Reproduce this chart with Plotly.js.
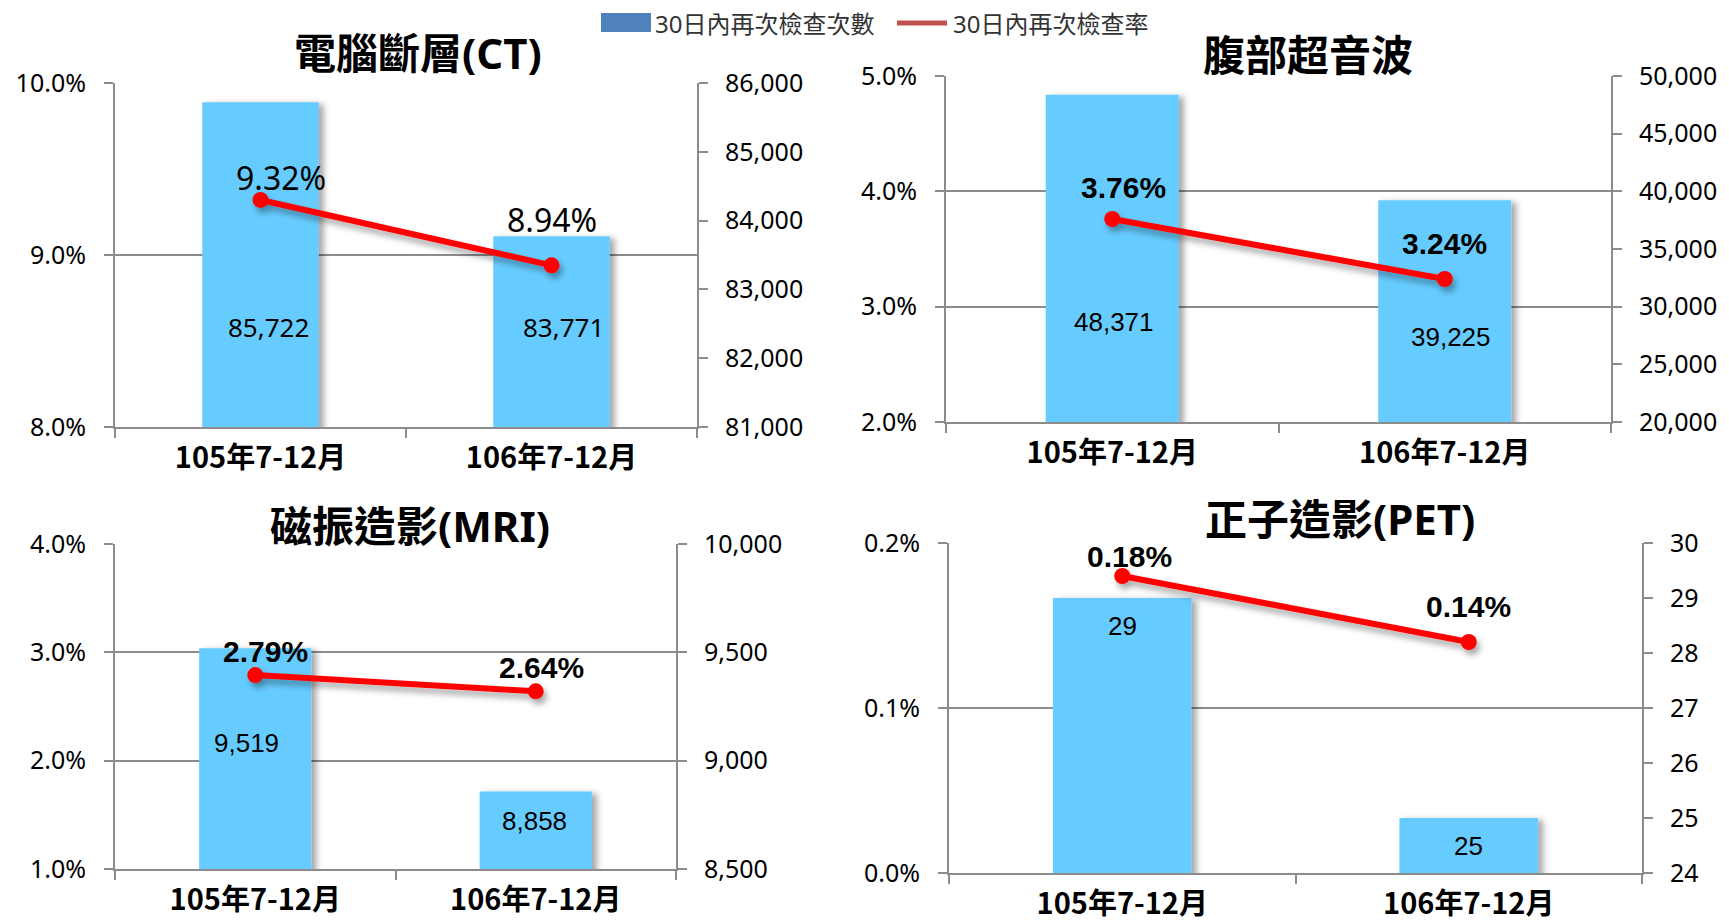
<!DOCTYPE html>
<html><head><meta charset="utf-8">
<script src="https://cdn.plot.ly/plotly-3.0.1.min.js"></script>
<style>html,body{margin:0;padding:0;background:#fff}#chart{width:1729px;height:923px}</style>
</head><body><div id="chart"></div>
<script>
// ---- data ----
const categories = ['105年7-12月', '106年7-12月'];
const panelTitles = ['電腦斷層(CT)', '腹部超音波', '磁振造影(MRI)', '正子造影(PET)'];
const seriesNames = ['30日內再次檢查次數', '30日內再次檢查率'];
const ctCounts = [85722, 83771];
const ctRates = [9.32, 8.94];
const usCounts = [48371, 39225];
const usRates = [3.76, 3.24];
const mriCounts = [9519, 8858];
const mriRates = [2.79, 2.64];
const petCounts = [29, 25];
const petRates = [0.18, 0.14];

// ---- layout config ----
const W = 1729, H = 923;
const GRAY = '#8c8c8c';
const BAR = '#66CCFF';
const RED = '#FF0000';
const LATIN = 'Noto Sans, Noto Sans CJK TC, sans-serif';
const ARIAL = 'Liberation Sans, Arial, sans-serif';
const CJK = 'Noto Sans CJK TC, sans-serif';

const panels = [
  {counts: ctCounts, rates: ctRates, title: panelTitles[0], xd: [115, 697], yd: [83, 427],
   rateRange: [8, 10], rateDtick: 1, countRange: [81000, 86000], countDtick: 1000,
   rateFont: {family: LATIN, size: 32, color: '#000'}, countFont: {family: LATIN, size: 26, color: '#000'},
   rateShift: [[20, 22], [0, 46]], countShift: [[8, -225], [12, -91]], tx: 418, ty: 52},
  {counts: usCounts, rates: usRates, title: panelTitles[1], xd: [946, 1611], yd: [76, 422],
   rateRange: [2, 5], rateDtick: 1, countRange: [20000, 50000], countDtick: 5000,
   rateFont: {family: ARIAL, size: 30, color: '#000', weight: 'bold'}, countFont: {family: ARIAL, size: 26, color: '#000'},
   rateShift: [[11, 32], [0, 35]], countShift: [[2, -227], [6, -137]], tx: 1308, ty: 54},
  {counts: mriCounts, rates: mriRates, title: panelTitles[2], xd: [115, 676], yd: [544, 869],
   rateRange: [1, 4], rateDtick: 1, countRange: [8500, 10000], countDtick: 500,
   rateFont: {family: ARIAL, size: 30, color: '#000', weight: 'bold'}, countFont: {family: ARIAL, size: 26, color: '#000'},
   rateShift: [[10, 24], [6, 24]], countShift: [[-9, -95], [-1, -30]], tx: 410, ty: 525},
  {counts: petCounts, rates: petRates, title: panelTitles[3], xd: [949, 1642], yd: [543, 873],
   rateRange: [0, 0.2], rateDtick: 0.1, countRange: [24, 30], countDtick: 1,
   rateFont: {family: ARIAL, size: 30, color: '#000', weight: 'bold'}, countFont: {family: ARIAL, size: 26, color: '#000'},
   rateShift: [[7, 20], [0, 36]], countShift: [[0, -28], [0, -28]], tx: 1340, ty: 518}
];

const fmtInt = v => String(v).replace(/\B(?=(\d{3})+(?!\d))/g, ',');

const data = [];
const layout = {
  width: W, height: H, margin: {l: 0, r: 0, t: 0, b: 0},
  paper_bgcolor: '#fff', plot_bgcolor: 'rgba(0,0,0,0)',
  showlegend: false, bargap: 0.6,
  font: {family: LATIN, color: '#000'},
  annotations: [], shapes: []
};

panels.forEach((p, i) => {
  const xn = i + 1;
  const xk = xn === 1 ? 'x' : 'x' + xn;
  const cN = 2 * i + 1, rN = 2 * i + 2;
  const cK = cN === 1 ? 'y' : 'y' + cN;
  const rK = 'y' + rN;
  const xdom = [p.xd[0] / W, p.xd[1] / W];
  const ydom = [1 - p.yd[1] / H, 1 - p.yd[0] / H];

  layout[xn === 1 ? 'xaxis' : 'xaxis' + xn] = {
    domain: xdom, anchor: cK, type: 'category', range: [-0.5, 1.5],
    showline: true, linecolor: GRAY, linewidth: 2,
    ticks: 'outside', tickson: 'boundaries', ticklen: 9, tickcolor: GRAY, tickwidth: 2,
    tickfont: {family: CJK, size: 29, color: '#000', weight: 'bold'},
    ticklabelstandoff: 4, showgrid: false, zeroline: false, fixedrange: true
  };
  layout[cN === 1 ? 'yaxis' : 'yaxis' + cN] = {
    domain: ydom, anchor: xk, side: 'right', range: p.countRange, dtick: p.countDtick,
    tick0: p.countRange[0], tickformat: ',d',
    showline: true, linecolor: GRAY, linewidth: 2,
    ticks: 'outside', ticklen: 9, tickcolor: GRAY, tickwidth: 2,
    tickfont: {family: LATIN, size: 25, color: '#000'}, ticklabelstandoff: 12,
    showgrid: false, zeroline: false, fixedrange: true
  };
  layout['yaxis' + rN] = {
    overlaying: cK, anchor: xk, side: 'left', range: p.rateRange, dtick: p.rateDtick,
    tick0: p.rateRange[0], tickformat: '.1f', ticksuffix: '%',
    showline: true, linecolor: GRAY, linewidth: 2,
    ticks: 'outside', ticklen: 9, tickcolor: GRAY, tickwidth: 2,
    tickfont: {family: LATIN, size: 25, color: '#000'}, ticklabelstandoff: 13,
    showgrid: true, gridcolor: GRAY, gridwidth: 2, zeroline: false, fixedrange: true
  };

  data.push({
    type: 'bar', name: seriesNames[0], x: categories, y: p.counts, xaxis: xk, yaxis: cK,
    marker: {color: BAR, line: {width: 0}}, hoverinfo: 'skip'
  });
  data.push({
    type: 'scatter', mode: 'lines+markers', name: seriesNames[1], x: categories, y: p.rates,
    xaxis: xk, yaxis: rK, line: {color: RED, width: 6}, marker: {color: RED, size: 16},
    cliponaxis: false, hoverinfo: 'skip'
  });

  categories.forEach((c, j) => {
    layout.annotations.push({
      xref: xk, yref: rK, x: c, y: p.rates[j], text: p.rates[j].toFixed(2) + '%',
      showarrow: false, xanchor: 'center', yanchor: 'middle',
      xshift: p.rateShift[j][0], yshift: p.rateShift[j][1], font: p.rateFont
    });
    layout.annotations.push({
      xref: xk, yref: cK, x: c, y: p.counts[j], text: fmtInt(p.counts[j]),
      showarrow: false, xanchor: 'center', yanchor: 'middle',
      xshift: p.countShift[j][0], yshift: p.countShift[j][1], font: p.countFont
    });
  });

  layout.annotations.push({
    xref: 'paper', yref: 'paper', x: p.tx / W, y: 1 - p.ty / H, text: p.title,
    showarrow: false, xanchor: 'center', yanchor: 'middle',
    font: {family: LATIN, size: 42, color: '#000', weight: 'bold'}
  });
});

// legend (drawn as shapes + text in the top band)
layout.shapes.push({type: 'rect', xref: 'paper', yref: 'paper',
  x0: 601 / W, x1: 651 / W, y0: 1 - 32 / H, y1: 1 - 13 / H, fillcolor: '#4F81BD', line: {width: 0}});
layout.shapes.push({type: 'line', xref: 'paper', yref: 'paper',
  x0: 897 / W, x1: 947 / W, y0: 1 - 23 / H, y1: 1 - 23 / H, line: {color: '#C0504D', width: 5}});
layout.annotations.push({xref: 'paper', yref: 'paper', x: 653 / W, y: 1 - 23 / H, text: seriesNames[0],
  showarrow: false, xanchor: 'left', yanchor: 'middle', font: {family: LATIN, size: 24, color: '#333'}});
layout.annotations.push({xref: 'paper', yref: 'paper', x: 951 / W, y: 1 - 23 / H, text: seriesNames[1],
  showarrow: false, xanchor: 'left', yanchor: 'middle', font: {family: LATIN, size: 24, color: '#333'}});

Plotly.newPlot('chart', data, layout, {displayModeBar: false, staticPlot: true}).then(gd => {
  const svg = gd.querySelector('svg.main-svg');
  const ns = 'http://www.w3.org/2000/svg';
  const defs = document.createElementNS(ns, 'defs');
  defs.innerHTML =
    '<filter id="barShadow" x="-20%" y="-20%" width="150%" height="140%">' +
    '<feDropShadow dx="5" dy="2" stdDeviation="3" flood-color="#000" flood-opacity="0.35"/></filter>' +
    '<filter id="lineShadow" x="-20%" y="-50%" width="150%" height="250%">' +
    '<feDropShadow dx="3" dy="5" stdDeviation="3" flood-color="#000" flood-opacity="0.35"/></filter>';
  svg.insertBefore(defs, svg.firstChild);
  gd.querySelectorAll('.barlayer .point path').forEach(el => el.setAttribute('filter', 'url(#barShadow)'));
  gd.querySelectorAll('.scatterlayer .trace').forEach(el => el.setAttribute('filter', 'url(#lineShadow)'));
});
</script>
</body></html>
